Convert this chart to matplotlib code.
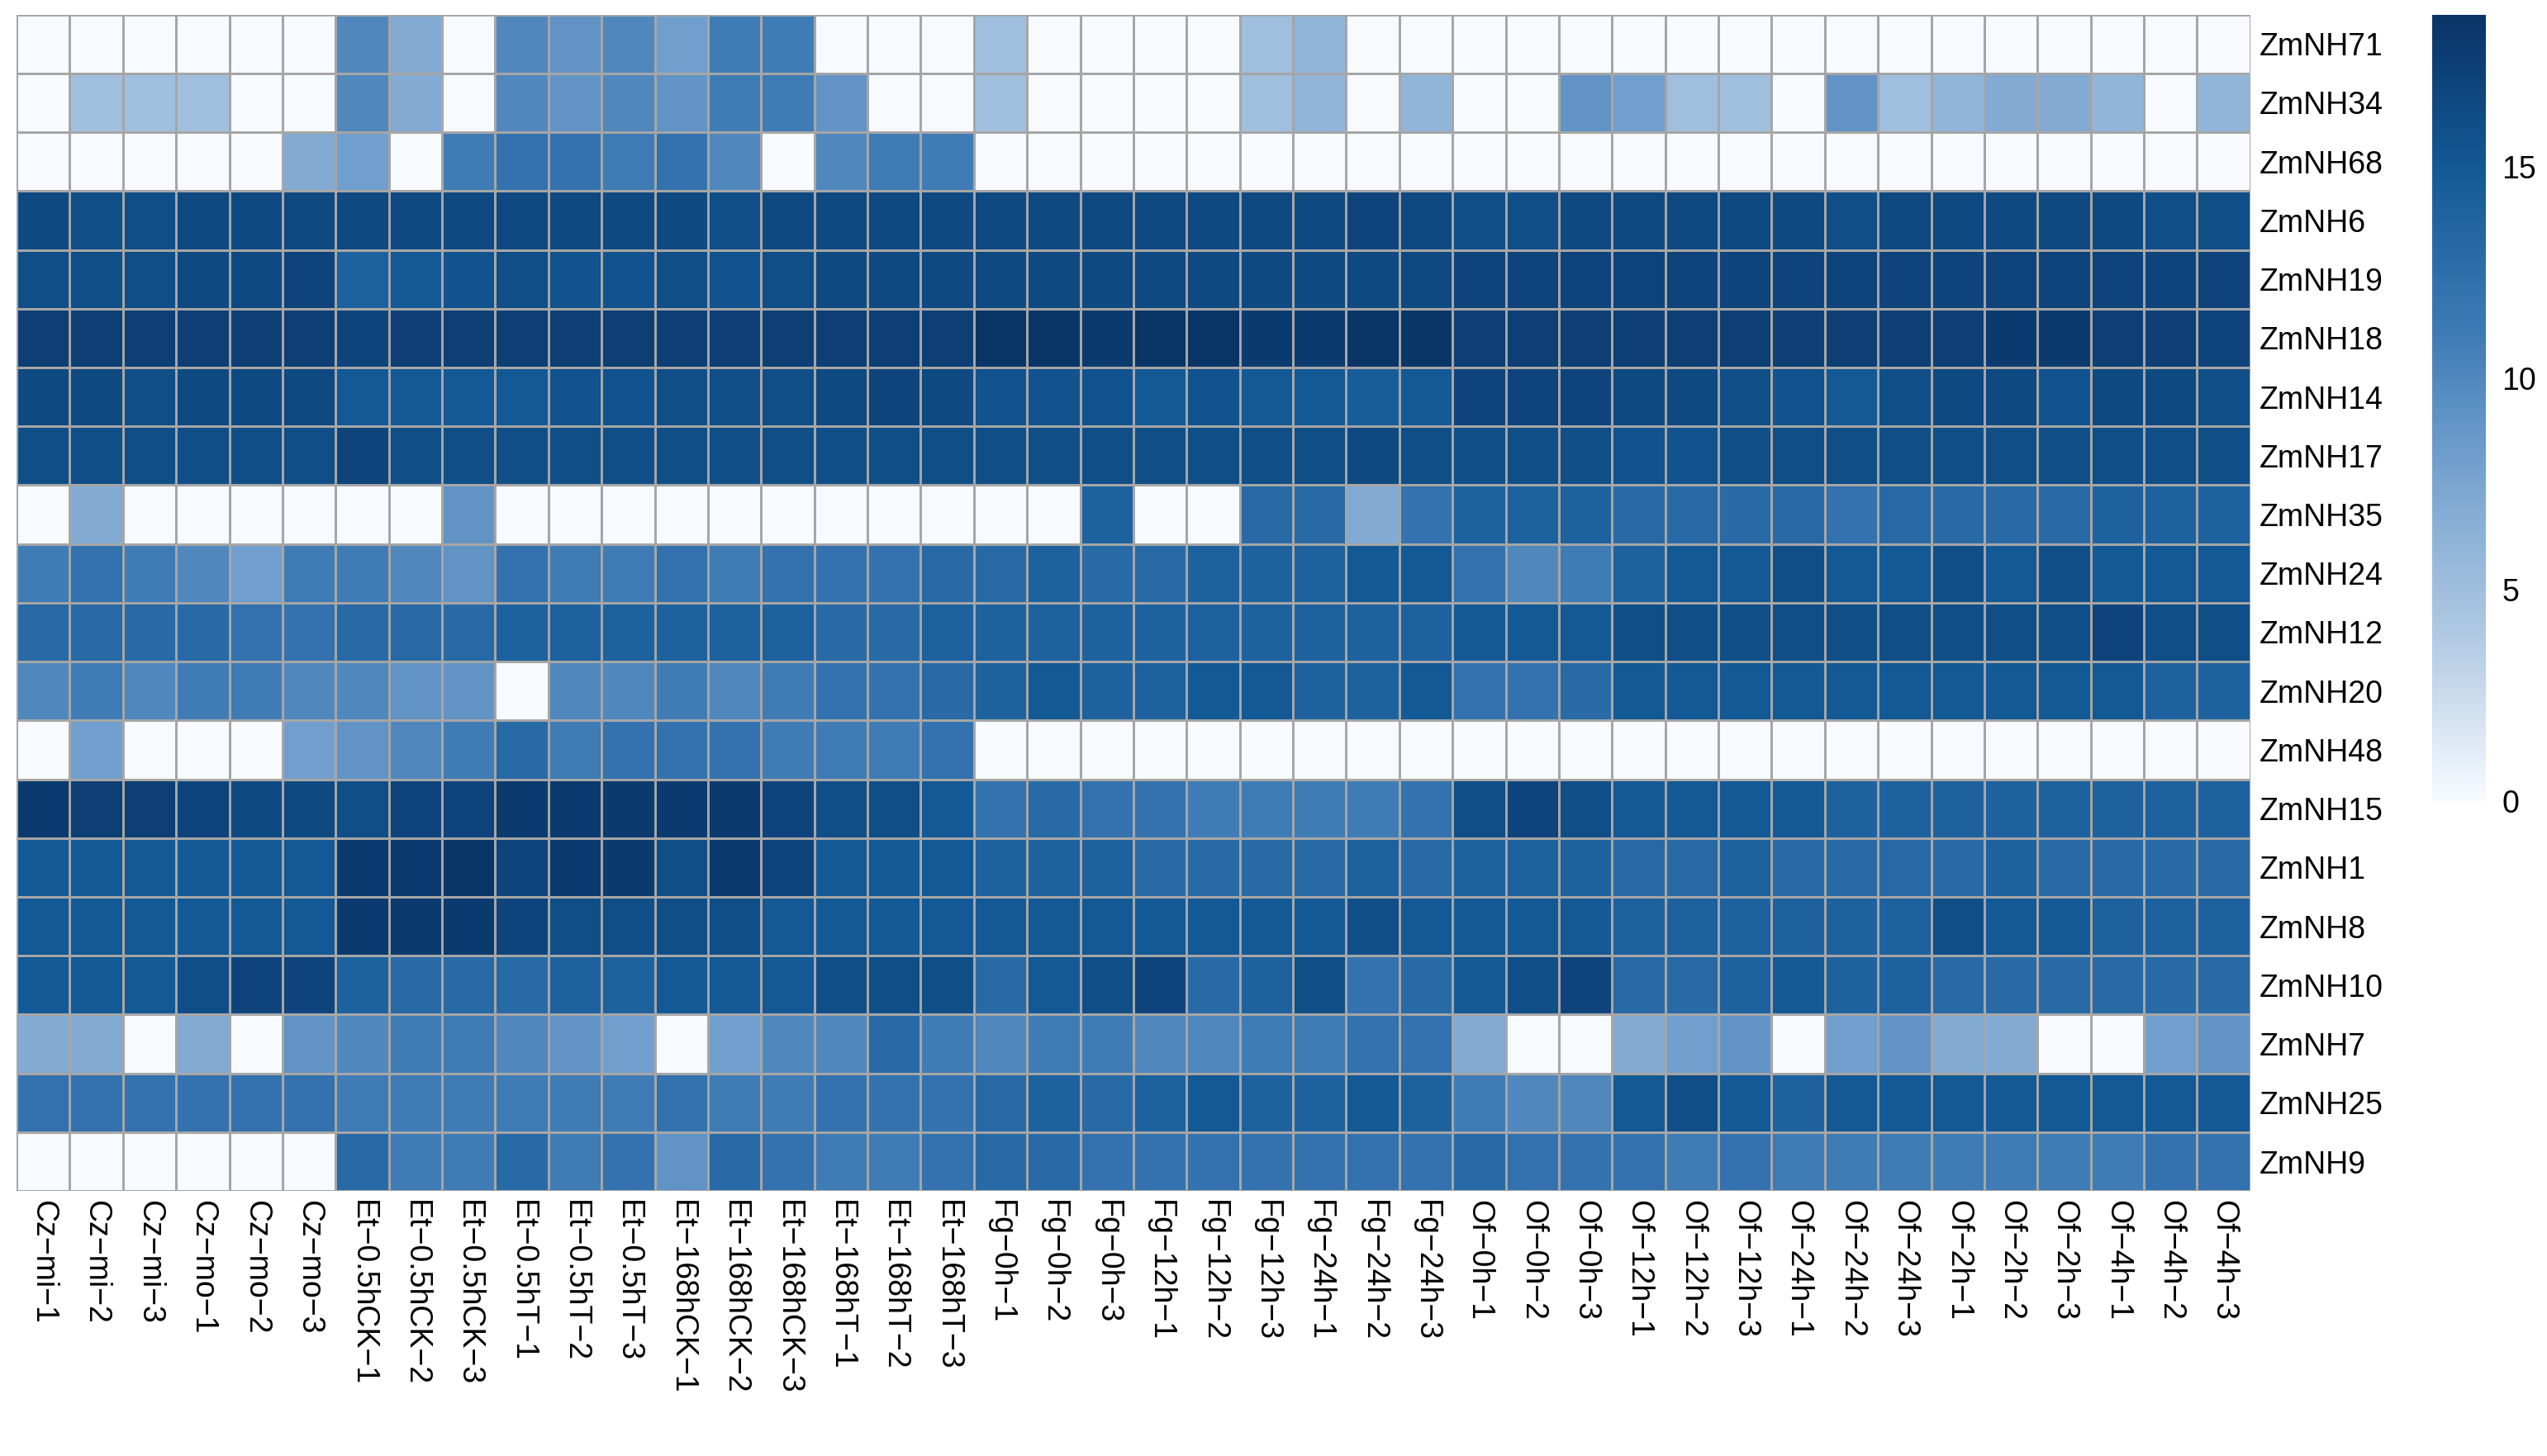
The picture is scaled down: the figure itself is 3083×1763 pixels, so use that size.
import numpy as np
import matplotlib.pyplot as plt
from matplotlib.colors import LinearSegmentedColormap

plt.rcParams['font.family'] = ['Liberation Sans', 'DejaVu Sans']

samples = ["Cz−mi−1", "Cz−mi−2", "Cz−mi−3", "Cz−mo−1", "Cz−mo−2", "Cz−mo−3",
           "Et−0.5hCK−1", "Et−0.5hCK−2", "Et−0.5hCK−3", "Et−0.5hT−1", "Et−0.5hT−2", "Et−0.5hT−3",
           "Et−168hCK−1", "Et−168hCK−2", "Et−168hCK−3", "Et−168hT−1", "Et−168hT−2", "Et−168hT−3",
           "Fg−0h−1", "Fg−0h−2", "Fg−0h−3", "Fg−12h−1", "Fg−12h−2", "Fg−12h−3",
           "Fg−24h−1", "Fg−24h−2", "Fg−24h−3", "Of−0h−1", "Of−0h−2", "Of−0h−3",
           "Of−12h−1", "Of−12h−2", "Of−12h−3", "Of−24h−1", "Of−24h−2", "Of−24h−3",
           "Of−2h−1", "Of−2h−2", "Of−2h−3", "Of−4h−1", "Of−4h−2", "Of−4h−3"]

genes = ["ZmNH71", "ZmNH34", "ZmNH68", "ZmNH6", "ZmNH19", "ZmNH18", "ZmNH14", "ZmNH17",
         "ZmNH35", "ZmNH24", "ZmNH12", "ZmNH20", "ZmNH48", "ZmNH15", "ZmNH1", "ZmNH8",
         "ZmNH10", "ZmNH7", "ZmNH25", "ZmNH9"]

# valores (aprox.)
ZmNH71 = [0,0,0,0,0,0, 10,7,0, 10,9,10, 8,11,11, 0,0,0, 5,0,0, 0,0,5, 6,0,0] + [0]*15
ZmNH34 = [0,5,5,5,0,0, 10,7,0, 10,9,10, 9,11,11, 9,0,0, 5,0,0, 0,0,5, 6,0,6,
          0,0,9, 8,5,5, 0,9,5, 6,7,7, 6,0,6]
ZmNH68 = [0,0,0,0,0,7, 8,0,11, 12,12,11, 12,10,0, 10,11,11] + [0]*24
ZmNH6 = [16.5,16,16,16.5,16.5,16.5, 16.5,16.5,16.5, 16.5,16.5,16.5, 16.5,16,16.5, 16.5,16.5,16.5,
         16.5,16.5,16.5, 16.5,16.5,16.5, 16.5,17,16.5, 16,16,16.5, 16.5,16.5,16.5, 16.5,16,16.5,
         16.5,16.5,16.5, 16.5,16,16]
ZmNH19 = [16,16,16,16.5,16.5,17, 14,15,15.5, 16,15.5,15.5, 16,15.5,16, 16.5,16.5,16.5,
          16.5,16.5,16.5, 16.5,16.5,16.5, 16.5,16.5,16.5, 17,17,17, 17,17,17, 17,17,17,
          17,17,17, 17,17,17]
ZmNH18 = [17.5,17.5,17.5,17.5,17.5,17.5, 17,17.5,17.5, 17.5,17.5,17.5, 17.5,17.5,17.5, 17.5,17.5,17.5,
          18.5,18.5,18,18.5,18.5,18,18,18.5,18.5, 17.5,17.5,17.5, 17.5,17.5,17.5, 17.5,17.5,17.5,
          17.5,18,18, 17.5,17.5,17]
ZmNH14 = [16.5,16.5,16,16.5,16.5,16.5, 15,15,15, 15,15.5,15.5, 16,16,16, 16.5,17,16.5,
          15.5,15.5,15.5, 15,15.5,15, 15,14.5,15, 17,17,17, 16.5,16.5,16, 15.5,15,16,
          16.5,16.5,15.5, 16.5,16.5,16]
ZmNH17 = [16,16,16,16,16,16, 17,16,16, 16,16,16, 16,16,16, 16,16,16, 16,16,16, 16,16,16,
          16,16.5,16, 16,16,16, 15.5,15.5,16, 16,16,16, 16,16,16, 16,16,16]
ZmNH35 = [0,7,0,0,0,0, 0,0,9, 0,0,0, 0,0,0, 0,0,0, 0,0,14, 0,0,13, 13,7,12,
          14,14,14, 13,13,13, 13,12,13, 13,13,13, 14,14,14]
ZmNH24 = [11,12,11,10,8,11, 11,10,9, 12,11,11, 12,11,12, 12,12,13,
          13,14,13, 13,14,14, 14,15,15, 12,10,11, 14,15,15, 16,15,15, 16,15,16, 15,15,15]
ZmNH12 = [13,13,13,13,12,12, 13,13,13, 14,14,14, 14,14,14, 13,13,14,
          14,14,14, 14,14,14, 14,14,14, 15,15,15, 16,16,16, 16,16,16, 16,16,16, 17,16,16]
ZmNH20 = [10,11,10,11,11,10, 10,9,9, 0,10,10, 11,10,11, 12,12,13,
          14,15,14, 14,15,15, 14,14,15, 12,12,13, 15,15,15, 15,15,15, 15,15,15, 15,14,14]
ZmNH48 = [0,8,0,0,0,8, 9,10,11, 13,11,12, 12,12,11, 11,11,12] + [0]*24
ZmNH15 = [18,17.5,17.5,17,16.5,16.5, 16,17,17, 18,18,18, 18,18,17, 16,16,15,
          12,13,12, 12,11,11, 11,11,12, 16,17,16, 15,15,15, 15,14,14, 14,14,14, 14,14,14]
ZmNH1 = [15,15,15,15,15,15, 18,18,18.5, 17,18,18, 16,18,17, 15,15,15,
         14,14,14, 13,13,13, 13,14,13, 14,14,14, 13,13,14, 13,13,13, 13,14,13, 13,13,13]
ZmNH8 = [15,15,15,15,15,15, 18,18,18, 17,16,16, 16,16,15, 15,15,15,
         15,15,15, 15,15,15, 15,16,15, 15,15,15, 14,14,14, 14,14,14, 16,15,15, 14,14,14]
ZmNH10 = [15,15,15,16,17,17, 14,13,13, 13,14,14, 15,15,15, 16,16,16,
          13,15,16, 17,13,14, 16,12,13, 15,16,17, 13,13,14, 15,14,14, 13,13,13, 13,13,13]
ZmNH7 = [7,7,0,7,0,9, 10,11,11, 10,9,8, 0,8,10, 10,13,11,
         10,11,11, 10,10,11, 11,12,12, 7,0,0, 7,8,9, 0,8,9, 7,7,0, 0,8,9]
ZmNH25 = [12,12,12,12,12,12, 11,11,11, 11,11,11, 12,11,11, 12,12,12,
          13,14,13, 14,15,14, 14,15,14, 11,10,10, 15,16,15, 14,15,15, 15,15,15, 15,15,15]
ZmNH9 = [0,0,0,0,0,0, 13,11,11, 13,11,12, 9,13,12, 11,11,12,
         13,13,12, 12,12,12, 12,12,12, 13,12,12, 12,11,12, 11,11,11, 11,11,11, 11,12,12]

data = np.array([ZmNH71, ZmNH34, ZmNH68, ZmNH6, ZmNH19, ZmNH18, ZmNH14, ZmNH17, ZmNH35,
                 ZmNH24, ZmNH12, ZmNH20, ZmNH48, ZmNH15, ZmNH1, ZmNH8, ZmNH10, ZmNH7,
                 ZmNH25, ZmNH9], dtype=float)

cmap = LinearSegmentedColormap.from_list(
    "azules", ["#F7FBFF", "#B3CBE4", "#7BA6D1", "#3D7AB5", "#135A97", "#0A3466"])

fig = plt.figure(figsize=(30.83, 17.63), dpi=100)
ax = fig.add_axes([0.0065, 0.182, 0.877, 0.808])
mesh = ax.pcolormesh(data, cmap=cmap, vmin=0, vmax=18.6, edgecolors="#A6A6A6", linewidth=2)
ax.set_xlim(0, data.shape[1])
ax.set_ylim(data.shape[0], 0)
ax.set_xticks(np.arange(data.shape[1]) + 0.5)
ax.set_xticklabels(samples, rotation=-90, fontsize=27, va="top")
ax.set_yticks(np.arange(data.shape[0]) + 0.5)
ax.set_yticklabels(genes, fontsize=27)
ax.yaxis.tick_right()
ax.tick_params(length=0, pad=8)
for s in ax.spines.values():
    s.set_visible(False)

cax = fig.add_axes([0.955, 0.45, 0.021, 0.54])
cb = fig.colorbar(mesh, cax=cax, ticks=[0, 5, 10, 15])
cb.outline.set_visible(False)
cb.ax.tick_params(labelsize=27, length=0, pad=14)

fig.savefig("out.png", dpi=100)
